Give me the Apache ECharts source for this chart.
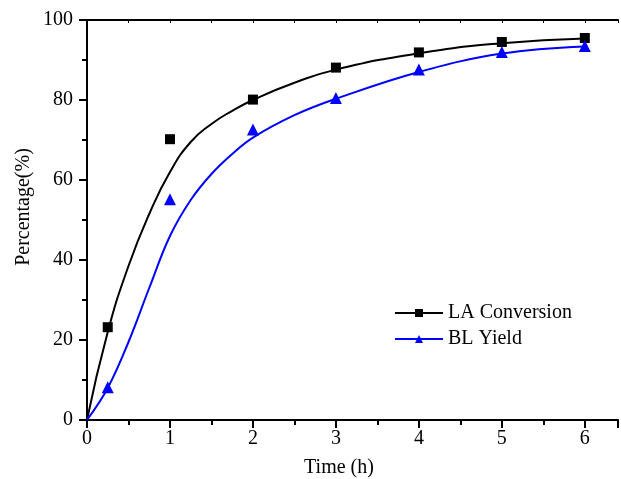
<!DOCTYPE html>
<html>
<head>
<meta charset="utf-8">
<script src="https://cdn.jsdelivr.net/npm/echarts@6/dist/echarts.min.js"></script>
<style>
  html, body { margin: 0; padding: 0; background: #fff; }
  #main { width: 621px; height: 479px; }
</style>
</head>
<body>
<div id="main"></div>
<script>
var chartDom = document.getElementById('main');
var myChart = echarts.init(chartDom);

// measured points
var timeH = [0.25, 1, 2, 3, 4, 5, 6];
var laConversion = [23.2, 70.2, 80.1, 88.1, 91.9, 94.5, 95.5];
var blYield = [8.2, 55.2, 72.6, 80.5, 87.6, 92.0, 93.5];

// fitted curves
var fitTime = [0, 0.25, 0.5, 0.75, 1, 1.25, 1.5, 1.75, 2, 2.5, 3, 4, 5, 6];
var laFit = [0, 22, 38.5, 51.5, 62, 69.5, 74, 77.3, 80, 84.3, 87.6, 91.7, 94.2, 95.4];
var blFit = [0, 8, 19.5, 33, 46, 55, 61.5, 66.5, 70.6, 76.2, 80.3, 87, 91.6, 93.4];

function pairs(xs, ys) {
  var out = [];
  for (var i = 0; i < xs.length; i++) out.push([xs[i], ys[i]]);
  return out;
}

var font = 'Liberation Serif';
var option = {
  animation: false,
  grid: { left: 87, top: 20, width: 535, height: 400 },
  legend: {
    data: ['LA Conversion', 'BL Yield'],
    orient: 'vertical',
    left: 389,
    top: 298,
    itemWidth: 48,
    itemHeight: 10,
    itemGap: 6,
    textStyle: { fontFamily: font, fontSize: 20, color: '#000' }
  },
  xAxis: [{
    type: 'value',
    min: 0, max: 6.4, interval: 1,
    axisLine: { onZero: false, lineStyle: { color: '#000', width: 2 } },
    axisTick: { length: 8, inside: false, lineStyle: { color: '#000', width: 2 } },
    minorTick: { show: true, splitNumber: 2, length: 5, lineStyle: { color: '#000', width: 2 } },
    splitLine: { show: false },
    axisLabel: {
      margin: 9, color: '#000', fontFamily: font, fontSize: 20,
      formatter: function (v) { return Number.isInteger(v) ? v : ''; }
    }
  }, {
    type: 'value', position: 'top',
    min: 0, max: 6.4, interval: 0.5,
    axisLine: { show: true, onZero: false, lineStyle: { color: '#000', width: 2 } },
    axisTick: { show: true, inside: true, length: 3, lineStyle: { color: '#000', width: 1 } },
    axisLabel: { show: false },
    splitLine: { show: false }
  }],
  yAxis: {
    type: 'value',
    min: 0, max: 100, interval: 20,
    axisLine: { show: true, onZero: false, lineStyle: { color: '#000', width: 2 } },
    axisTick: { show: true, length: 8, lineStyle: { color: '#000', width: 2 } },
    minorTick: { show: true, splitNumber: 2, length: 5, lineStyle: { color: '#000', width: 2 } },
    splitLine: { show: false },
    axisLabel: { margin: 14, color: '#000', fontFamily: font, fontSize: 20 }
  },
  graphic: [{
    type: 'text', x: 339, y: 468,
    style: { text: 'Time (h)', font: '20px "Liberation Serif"', fill: '#000', align: 'center', verticalAlign: 'middle' }
  }, {
    type: 'text', x: 24, y: 207, rotation: Math.PI / 2,
    style: { text: 'Percentage(%)', font: '20px "Liberation Serif"', fill: '#000', align: 'center', verticalAlign: 'middle' }
  }],
  series: [{
    name: 'LA Conversion',
    type: 'line',
    data: pairs(fitTime, laFit),
    smooth: 0.5,
    symbol: 'rect',
    symbolSize: 10,
    showSymbol: false,
    itemStyle: { color: '#000' },
    lineStyle: { color: '#000', width: 2 },
    z: 3
  }, {
    name: 'BL Yield',
    type: 'line',
    data: pairs(fitTime, blFit),
    smooth: 0.4,
    symbol: 'triangle',
    symbolSize: 12,
    showSymbol: false,
    itemStyle: { color: '#0000ff' },
    lineStyle: { color: '#0000ff', width: 2 },
    z: 3
  }, {
    name: 'LA points',
    type: 'scatter',
    data: pairs(timeH, laConversion),
    symbol: 'rect',
    symbolSize: 10,
    itemStyle: { color: '#000', opacity: 1 },
    z: 4
  }, {
    name: 'BL points',
    type: 'scatter',
    data: pairs(timeH, blYield),
    symbol: 'triangle',
    symbolSize: 12,
    itemStyle: { color: '#0000ff', opacity: 1 },
    z: 4
  }]
};
myChart.setOption(option);
</script>
</body>
</html>
